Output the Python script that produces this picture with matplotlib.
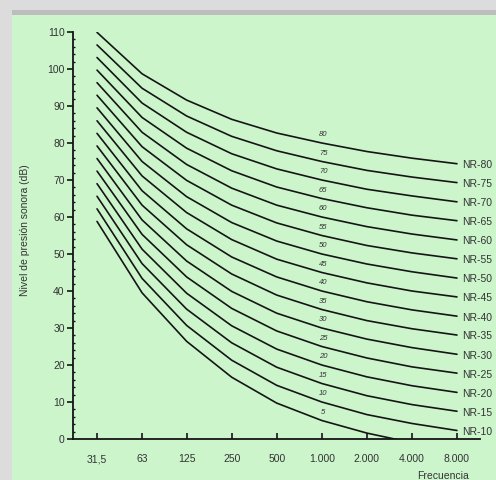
import matplotlib.pyplot as plt
from matplotlib.patches import Rectangle
from matplotlib.ticker import FixedLocator, MultipleLocator

plt.rcParams["font.family"] = ["Liberation Sans", "DejaVu Sans"]

# ---- Data (NR curves, dB per octave band) ----
freqs = [31.5, 63, 125, 250, 500, 1000, 2000, 4000, 8000]
freq_labels = ["31,5", "63", "125", "250", "500", "1.000", "2.000", "4.000", "8.000"]

nr_levels = [5, 10, 15, 20, 25, 30, 35, 40, 45, 50, 55, 60, 65, 70, 75, 80]
nr5 = [58.8, 39.5, 26.4, 16.7, 9.7, 5, 1.6, -1.0, -2.9]
nr10 = [62.2, 43.4, 30.7, 21.3, 14.5, 10, 6.6, 4.2, 2.3]
nr15 = [65.6, 47.4, 35.1, 26.0, 19.4, 15, 11.7, 9.3, 7.5]
nr20 = [69.0, 51.3, 39.4, 30.6, 24.3, 20, 16.8, 14.4, 12.6]
nr25 = [72.4, 55.3, 43.8, 35.3, 29.2, 25, 21.9, 19.5, 17.8]
nr30 = [75.8, 59.2, 48.1, 39.9, 34.0, 30, 27.0, 24.7, 22.9]
nr35 = [79.2, 63.2, 52.5, 44.6, 38.9, 35, 32.0, 29.8, 28.1]
nr40 = [82.6, 67.1, 56.8, 49.2, 43.8, 40, 37.1, 34.9, 33.2]
nr45 = [86.0, 71.1, 61.2, 53.9, 48.6, 45, 42.2, 40.0, 38.4]
nr50 = [89.5, 75.0, 65.5, 58.5, 53.5, 50, 47.3, 45.2, 43.5]
nr55 = [92.9, 79.0, 69.9, 63.2, 58.4, 55, 52.3, 50.3, 48.7]
nr60 = [96.3, 82.9, 74.2, 67.8, 63.2, 60, 57.4, 55.4, 53.8]
nr65 = [99.7, 86.9, 78.6, 72.5, 68.1, 65, 62.5, 60.5, 59.0]
nr70 = [103.1, 90.8, 82.9, 77.1, 73.0, 70, 67.5, 65.7, 64.1]
nr75 = [106.5, 94.8, 87.3, 81.8, 77.9, 75, 72.6, 70.8, 69.3]
nr80 = [109.9, 98.7, 91.6, 86.4, 82.7, 80, 77.7, 75.9, 74.4]
curves = [nr5, nr10, nr15, nr20, nr25, nr30, nr35, nr40, nr45, nr50,
          nr55, nr60, nr65, nr70, nr75, nr80]

GREEN = "#ccf5cc"
INK = "#151515"

# ---- Figure ----
fig = plt.figure(figsize=(4.96, 4.8), dpi=100)
fig.patch.set_facecolor("#dcdcdc")
# green panel with a darker strip along its top edge
fig.patches.append(Rectangle((12 / 496, 0), 1, 1 - 15 / 480, transform=fig.transFigure,
                             facecolor=GREEN, edgecolor="none", zorder=0))
fig.patches.append(Rectangle((12 / 496, 1 - 15 / 480), 1, 5 / 480, transform=fig.transFigure,
                             facecolor="#bdbdbd", edgecolor="none", zorder=0))

ax = fig.add_axes([73 / 496, 41 / 480, 407 / 496, 407 / 480])
ax.set_zorder(3)
ax.set_facecolor("none")

for lvl, vals in zip(nr_levels, curves):
    ax.plot(freqs, vals, color=INK, lw=1.2, solid_capstyle="round")
    # small level label above the curve at 1 kHz
    ax.annotate(str(lvl), (freqs[5], vals[5]), xytext=(1, 6), textcoords="offset points",
                ha="center", va="center", fontsize=5.5, color="#333333", style="italic")
    if vals[-1] > 0:
        ax.annotate(f"NR-{lvl}", (freqs[-1], vals[-1]), xytext=(4, -1),
                    textcoords="offset points", ha="left", va="center",
                    fontsize=7.5, color="#333333", annotation_clip=False)

ax.set_xscale("log", base=2)
ax.set_xlim(31.5 / 2 ** (24 / 45), 8000 * 2 ** (23 / 45))
ax.set_ylim(0, 110)

ax.xaxis.set_major_locator(FixedLocator(freqs))
ax.set_xticklabels(freq_labels)
ax.xaxis.set_minor_locator(FixedLocator([]))
ax.set_yticks(range(0, 111, 10))
ax.yaxis.set_minor_locator(MultipleLocator(2))

ax.tick_params(axis="x", direction="in", length=4, width=1.2, pad=11,
               labelsize=7.5, labelcolor="#333333", color=INK)
ax.tick_params(axis="y", which="major", direction="out", length=4, width=1.2,
               pad=2, labelsize=7.5, labelcolor="#333333", color=INK)
ax.tick_params(axis="y", which="minor", direction="in", length=1.5, width=1, color=INK)

for side in ("top", "right"):
    ax.spines[side].set_visible(False)
for side in ("left", "bottom"):
    ax.spines[side].set_linewidth(1.3)
    ax.spines[side].set_color(INK)

fig.text(25 / 496, 1 - 230 / 480, "Nivel de presión sonora (dB)", rotation=90,
         ha="center", va="center", fontsize=7.5, color="#333333", zorder=3)
fig.text(443 / 496, 1 - 476 / 480, "Frecuencia", ha="center", va="center",
         fontsize=7.5, color="#333333", zorder=3)

fig.savefig("out.png", dpi=100, facecolor=fig.get_facecolor())
